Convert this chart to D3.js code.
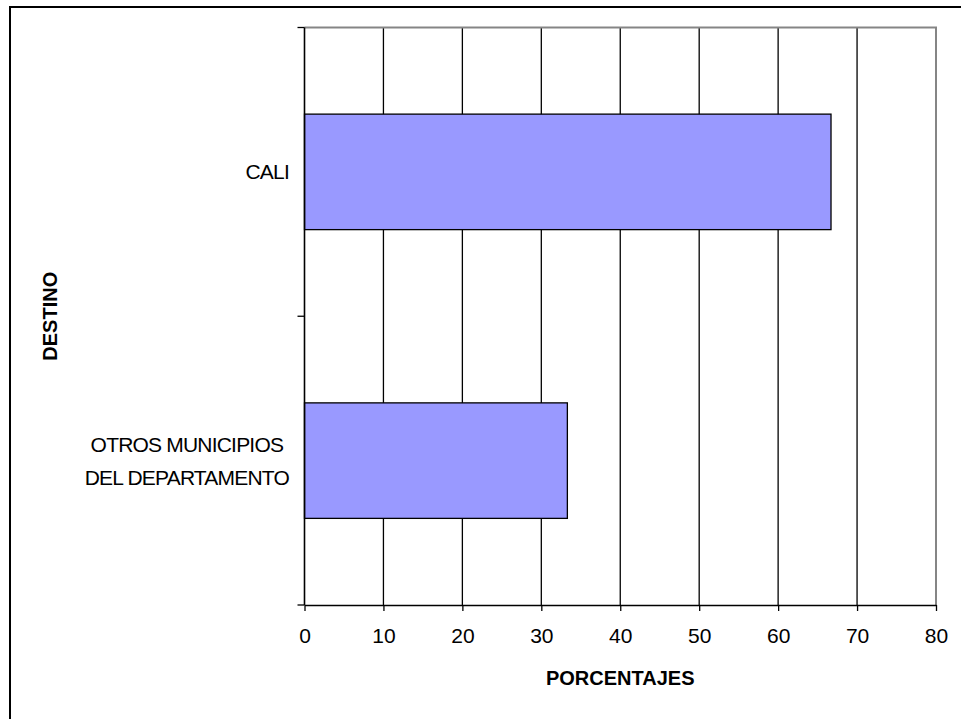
<!DOCTYPE html>
<html>
<head>
<meta charset="utf-8">
<script src="https://cdn.jsdelivr.net/npm/d3@7"></script>
<style>
  html, body { margin: 0; padding: 0; background: #fff; }
  svg { display: block; font-family: "Liberation Sans", Arial, sans-serif; }
</style>
</head>
<body>
<svg id="chart" width="961" height="719"></svg>
<script>
// Destinations (top to bottom) and their share in percent
const categories = ["CALI", "OTROS MUNICIPIOS|DEL DEPARTAMENTO"];
const values = [66.7, 33.3];
const xTicks = [0, 10, 20, 30, 40, 50, 60, 70, 80];
const xTitle = "PORCENTAJES";
const yTitle = "DESTINO";

const svg = d3.select("#chart");
const plot = { left: 304.5, right: 936, top: 27.5, bottom: 605 };

const x = d3.scaleLinear().domain([0, 80]).range([plot.left, plot.right]);
const y = d3.scaleBand().domain(categories).range([plot.top, plot.bottom]).padding(0);

// Outer frame (runs off the right and bottom edges)
svg.append("rect")
  .attr("x", 10).attr("y", 7).attr("width", 980).attr("height", 740)
  .attr("fill", "none").attr("stroke", "#000").attr("stroke-width", 2);

// Vertical gridlines
svg.append("g")
  .selectAll("line")
  .data(xTicks.filter(t => t > 0 && t < 80))
  .join("line")
  .attr("x1", d => x(d)).attr("x2", d => x(d))
  .attr("y1", plot.top).attr("y2", plot.bottom)
  .attr("stroke", "#000").attr("stroke-width", 1.3);

// Plot area border (top and right, grey)
svg.append("path")
  .attr("d", `M${plot.left},${plot.top}H${plot.right}V${plot.bottom}`)
  .attr("fill", "none").attr("stroke", "#858585").attr("stroke-width", 2);

// Bars
svg.append("g")
  .selectAll("rect")
  .data(categories.map((c, i) => ({ c, v: values[i] })))
  .join("rect")
  .attr("x", x(0))
  .attr("y", d => y(d.c) + y.bandwidth() * 0.3)
  .attr("width", d => x(d.v) - x(0))
  .attr("height", y.bandwidth() * 0.4)
  .attr("fill", "#9999ff")
  .attr("stroke", "#000").attr("stroke-width", 1.3);

// X axis
const xAxis = svg.append("g")
  .attr("transform", `translate(0,${plot.bottom})`)
  .call(d3.axisBottom(x).tickValues(xTicks).tickSize(6).tickPadding(17).tickSizeOuter(0));
xAxis.select(".domain").attr("stroke", "#000").attr("stroke-width", 1.6);
xAxis.selectAll(".tick line").attr("stroke", "#000").attr("stroke-width", 1.3);
xAxis.selectAll(".tick text")
  .attr("font-size", 21).attr("fill", "#000")
  .attr("font-family", "'Liberation Sans', Arial, sans-serif");

// Y axis: line plus ticks at band boundaries
const yEdges = [plot.top, ...categories.slice(1).map(c => y(c)), plot.bottom];
svg.append("line")
  .attr("x1", plot.left).attr("x2", plot.left)
  .attr("y1", plot.top).attr("y2", plot.bottom)
  .attr("stroke", "#000").attr("stroke-width", 1.6);
svg.append("g")
  .selectAll("line")
  .data(yEdges)
  .join("line")
  .attr("x1", plot.left - 7).attr("x2", plot.left)
  .attr("y1", d => d).attr("y2", d => d)
  .attr("stroke", "#000").attr("stroke-width", 1.3);

// Category labels, each block centred, right edge near the axis
const labelRight = 289;
const lineH = 33;
categories.forEach(c => {
  const lines = c.split("|");
  const cy = y(c) + y.bandwidth() / 2;
  const t = svg.append("text")
    .attr("font-size", 21).attr("letter-spacing", -0.8).attr("fill", "#000")
    .attr("text-anchor", "middle");
  const first = cy + 7.5 - (lines.length - 1) * lineH / 2;
  lines.forEach((l, i) => {
    t.append("tspan").attr("y", first + i * lineH).text(l);
  });
  let w = 0;
  t.selectAll("tspan").each(function () { w = Math.max(w, this.getComputedTextLength()); });
  t.selectAll("tspan").attr("x", labelRight - w / 2);
});

// Axis titles
svg.append("text")
  .attr("x", (plot.left + plot.right) / 2).attr("y", 685)
  .attr("text-anchor", "middle")
  .attr("font-size", 20).attr("font-weight", "bold").attr("fill", "#000")
  .text(xTitle);

svg.append("text")
  .attr("transform", `translate(56.5,${(plot.top + plot.bottom) / 2}) rotate(-90)`)
  .attr("text-anchor", "middle")
  .attr("font-size", 20).attr("font-weight", "bold").attr("fill", "#000")
  .text(yTitle);
</script>
</body>
</html>
